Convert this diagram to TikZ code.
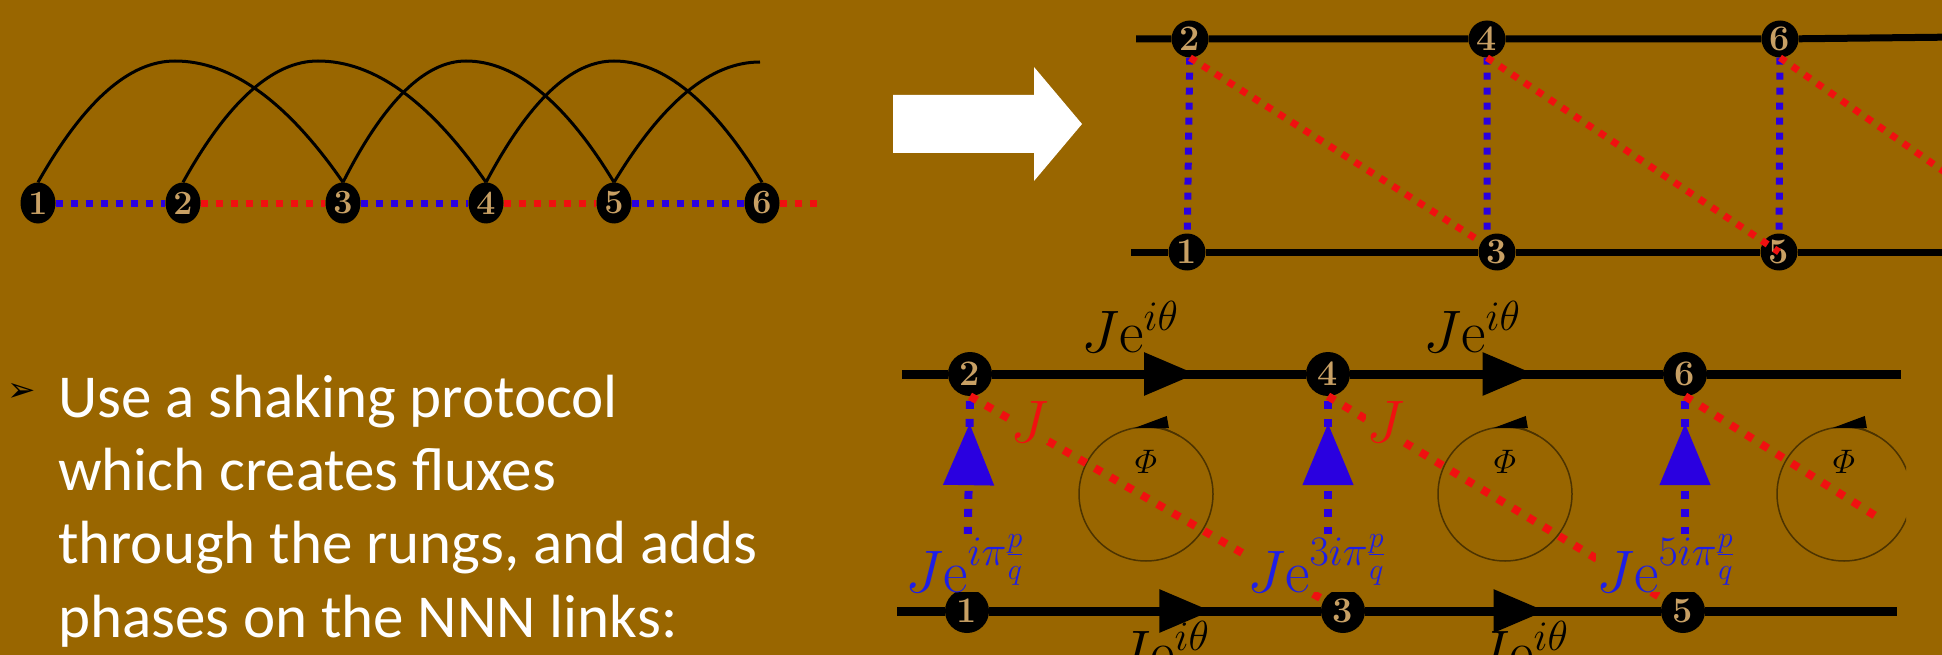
\RequirePackage{fix-cm}
\documentclass[tikz,border=0pt]{standalone}
\usepackage{amsmath}
\usepackage{fontspec}
\usetikzlibrary{calc,shapes.geometric,arrows.meta,decorations.markings}
\newfontfamily\slidefont{Carlito}
\newfontfamily\dingfont{DejaVu Sans}
\definecolor{SlideBrown}{HTML}{996600}
\definecolor{LinkBlue}{HTML}{2A00E0}
\definecolor{LinkRed}{HTML}{F01010}
\definecolor{LabelBlue}{HTML}{1E1EE6}
\definecolor{DigitTan}{HTML}{C8A064}
\definecolor{LoopBrown}{HTML}{4C3300}

\begin{document}
\begin{tikzpicture}[x=1pt,y=-1pt,
  site/.style={circle,fill=black,text=DigitTan,inner sep=0pt,font=\bfseries\fontsize{36}{36}\selectfont},
  chainsite/.style={site,ellipse,minimum width=35pt,minimum height=41pt,font=\bfseries\fontsize{34}{34}\selectfont},
  upsite/.style={site,minimum size=37pt},
  lowsite/.style={site,minimum size=44pt},
  nnnarc/.style={line width=3pt},
  bluedots/.style={LinkBlue,line width=7pt,dash pattern=on 7pt off 8pt},
  reddots/.style={LinkRed,line width=7pt,dash pattern=on 7pt off 8pt},
  bluebig/.style={LinkBlue,line width=8pt,dash pattern=on 8pt off 10pt},
  redbig/.style={LinkRed,line width=8pt,dash pattern=on 8pt off 10pt},
  uprail/.style={line width=7pt},
  lowrail/.style={line width=9pt},
  railtip/.style={postaction={decorate},decoration={markings,mark=at position #1 with {\arrow{Triangle[length=52pt,width=41pt]}}}},
  rungtip/.style={postaction={decorate},decoration={markings,mark=at position #1 with {\arrow{Triangle[length=62pt,width=49pt]}}}},
  fluxloop/.style={LoopBrown,line width=1.5pt},
  hop/.style={inner sep=0pt,font=\fontsize{60}{60}\selectfont},
  slidetext/.style={text=white,inner sep=0pt,font=\slidefont\fontsize{61}{61}\selectfont}]
  \useasboundingbox (0,0) rectangle (1942,655);
  \fill[SlideBrown] (0,0) rectangle (1942,655);
  \clip (0,0) rectangle (1942,655);

  % bullet text
  \node[font=\dingfont\fontsize{34}{34}\selectfont] (bullet) at (22,392) {➢};
  \foreach \n/\y/\t in {1/417/Use a shaking protocol,2/490/which creates fluxes,3/563/{through the rungs, and adds},4/637/phases on the NNN links:}
    \node[slidetext,anchor=base west] (line\n) at (58,\y) {\t};

  % chain with NNN arcs
  \foreach \n/\x in {1/38,2/183,3/343,4/486,5/614,6/762} \node[chainsite] (a\n) at (\x,203) {\n};
  \coordinate (a7) at (820,203);
  \draw[bluedots] (a1)--(a2) (a3)--(a4) (a5)--(a6);
  \draw[reddots] (a2)--(a3) (a4)--(a5) (a6)--(a7);
  \foreach \s/\e/\p/\l/\r in {a1/a3/175/46/56,a2/a4/318/45/56,a3/a5/466/41/49,a4/a6/614/43/49}
    \draw[nnnarc] (\s.north) .. controls +(\l,-81) and +(-\l,0) .. (\p,61) .. controls +(\r,0) and +(-\r,-81) .. (\e.north);
  \draw[nnnarc] (a5.north) .. controls +(49,-81) and +(-49,0) .. (760,62);

  % white arrow
  \fill[white] (893,95)--(1034,95)--(1034,67)--(1082,124)--(1034,181)--(1034,153)--(893,153)--cycle;

  % upper ladder
  \foreach \n/\x/\y in {1/1187/252,2/1190/39,3/1497/252,4/1487/39,5/1779/252,6/1780/39} \node[upsite] (b\n) at (\x,\y) {\n};
  \coordinate (bL1) at (1131,252);\coordinate (bL2) at (1136,39);\coordinate (bR1) at (1960,252);\coordinate (bR2) at (1960,37);\coordinate (b7) at (2060,252);
  \draw[uprail] (bL2)--(b2)--(b4)--(b6)--(bR2);
  \draw[uprail] (bL1)--(b1)--(b3)--(b5)--(bR1);
  \draw[bluedots] (b2)--(b1) (b4.south)--(b4 |- b3.north) (b6)--(b5);
  \draw[reddots] (b2.south)--(b3) (b4.south)--(b5.center) (b6.south)--(b7);

  % lower ladder with phases
  \foreach \n/\x/\y in {1/967/611,2/970/374,3/1343/611,4/1328/374,5/1683/611,6/1685/374} \node[lowsite] (c\n) at (\x,\y) {\n};
  \coordinate (cL1) at (897,611);\coordinate (cL2) at (902,374);\coordinate (cR1) at (1897,611);\coordinate (cR2) at (1901,374);\coordinate (c7) at (1882,520);
  \draw[lowrail] (cL2)--(c2) (c6)--(cR2) (cL1)--(c1) (c5)--(cR1);
  \draw[lowrail,railtip=0.65] (c2)--(c4);\draw[lowrail,railtip=0.59] (c4)--(c6);
  \draw[lowrail,railtip=0.67] (c1)--(c3);\draw[lowrail,railtip=0.61] (c3)--(c5);
  \begin{scope}
    \clip (0,0) rectangle (1906,655);
    \foreach \n/\x in {1/1146,2/1505,3/1844}{
      \coordinate (f\n) at (\x,494);
      \draw[fluxloop] (f\n) circle[radius=67];
      \draw[fluxloop,-{Triangle[length=34pt,width=12pt,color=black]}] ($(f\n)+(-60:67)$) arc[start angle=-60,end angle=-100,radius=67];
      \node[font=\fontsize{34}{34}\selectfont] (phi\n) at ($(f\n)+(0,-32)$) {$\varPhi$};
    }
  \end{scope}
  \draw[bluebig,rungtip=0.86] (c1.north)--(c2.south);
  \draw[bluebig,rungtip=0.86] (c4 |- c3.north)--(c4.south);
  \draw[bluebig,rungtip=0.86] (c6 |- c5.north)--(c6.south);
  \draw[redbig] (c2.south)--(c3) (c4.south)--(c5) (c6.south)--(c7);
  \node[hop,text=LinkRed,fill=SlideBrown] (j1) at (1029,422) {$J$};
  \node[hop,text=LinkRed,fill=SlideBrown] (j2) at (1385,422) {$J$};
  \node[hop,text=LabelBlue,fill=SlideBrown,anchor=base west] (r12) at (905,592) {$J\mathrm{e}^{i\pi\frac{p}{q}}$};
  \node[hop,text=LabelBlue,fill=SlideBrown,anchor=base west] (r34) at (1247,592) {$J\mathrm{e}^{3i\pi\frac{p}{q}}$};
  \node[hop,text=LabelBlue,fill=SlideBrown,anchor=base west] (r56) at (1596,592) {$J\mathrm{e}^{5i\pi\frac{p}{q}}$};
  \node[hop,anchor=base west] (h24) at (1081,352) {$J\mathrm{e}^{i\theta}$};
  \node[hop,anchor=base west] (h46) at (1423,352) {$J\mathrm{e}^{i\theta}$};
  \node[hop,anchor=base west] (h13) at (1112,672) {$J\mathrm{e}^{i\theta}$};
  \node[hop,anchor=base west] (h35) at (1471,672) {$J\mathrm{e}^{i\theta}$};
\end{tikzpicture}
\end{document}
